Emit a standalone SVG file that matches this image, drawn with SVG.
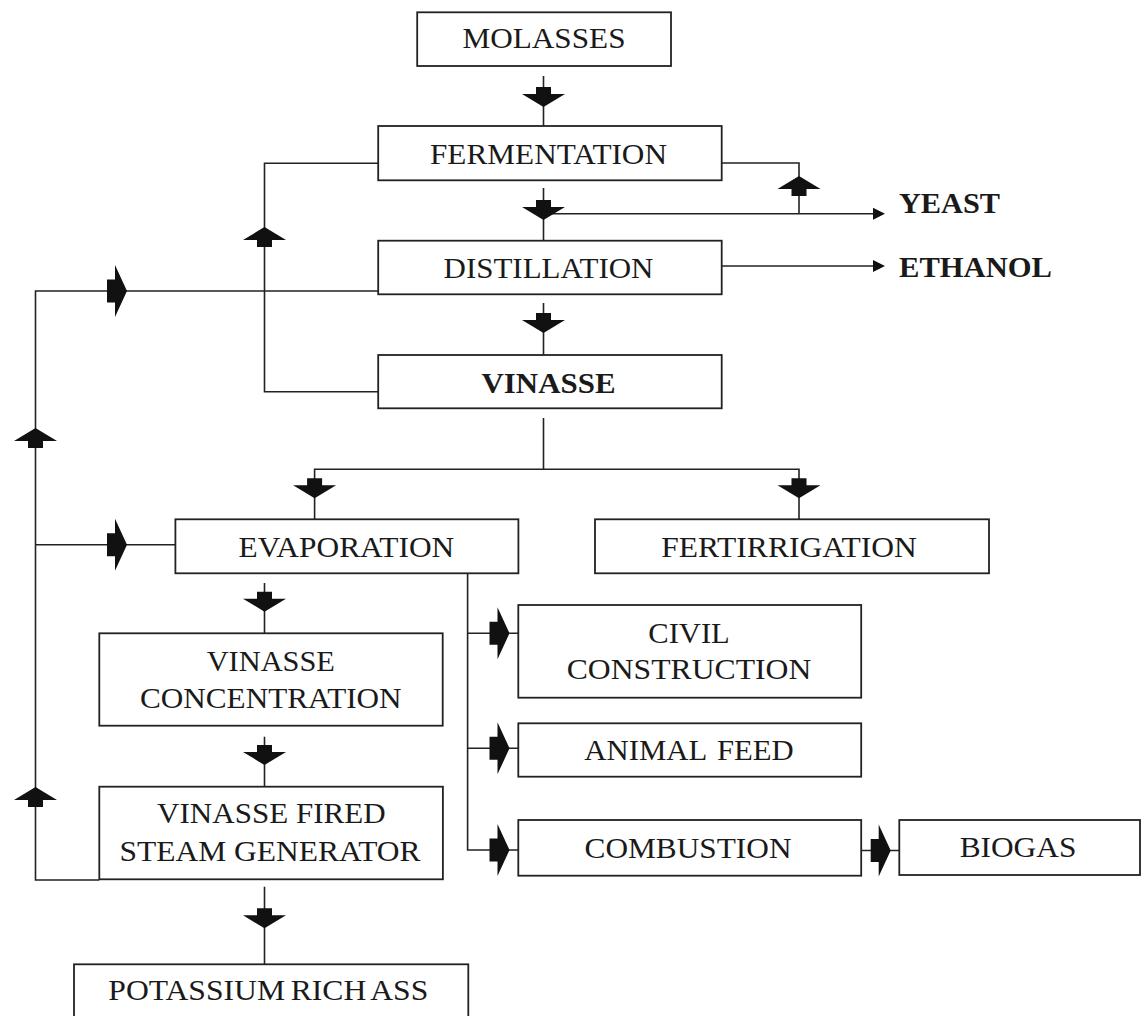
<svg xmlns="http://www.w3.org/2000/svg" xmlns:xlink="http://www.w3.org/1999/xlink" width="1141" height="1016" viewBox="0 0 1141 1016">
<style>
.box{fill:#fff;stroke:#222;stroke-width:1.8}
.ln{fill:none;stroke:#222;stroke-width:1.6}
.t{font-family:"Liberation Serif","Times New Roman",serif;font-size:29px;fill:#1a1a1a;text-anchor:middle}
.b{font-weight:bold}
.ah{fill:#111}
</style>
<defs>
<path id="ad" d="M-7.5,-20 H7.5 V-13 H21.5 L0,0 L-21.5,-13 H-7.5 Z"/>
<path id="ar" d="M-20,-11.5 H-12 V-26 L0,0 L-12,26 V11.5 H-20 Z"/>
<path id="ap" d="M-12,-6 L0,0 L-12,6 Z"/>
</defs>
<rect width="1141" height="1016" fill="#fff"/>

<g id="connectors">
<line class="ln" x1="543.5" y1="76" x2="543.5" y2="126"/>
<line class="ln" x1="543.5" y1="188" x2="543.5" y2="240.7"/>
<line class="ln" x1="543.5" y1="303" x2="543.5" y2="355"/>
<line class="ln" x1="543.5" y1="213.7" x2="875" y2="213.7"/>
<path class="ln" d="M721.7,163 H799 V213.7"/>
<line class="ln" x1="721.7" y1="266" x2="875" y2="266"/>
<path class="ln" d="M378,163.3 H264.5 V391.7 H378"/>
<line class="ln" x1="543.5" y1="418" x2="543.5" y2="469.3"/>
<path class="ln" d="M314.6,519.3 V469.3 H799 V519.3"/>
<line class="ln" x1="264.5" y1="583" x2="264.5" y2="633"/>
<line class="ln" x1="264.5" y1="736.7" x2="264.5" y2="786.7"/>
<line class="ln" x1="264.5" y1="886.7" x2="264.5" y2="964.3"/>
<path class="ln" d="M99.3,880 H35.5 V291 H378"/>
<line class="ln" x1="35.5" y1="544.7" x2="175.4" y2="544.7"/>
<path class="ln" d="M467.6,573.3 V850 H518.3"/>
<line class="ln" x1="467.6" y1="633.3" x2="518.3" y2="633.3"/>
<line class="ln" x1="467.6" y1="748.3" x2="518.3" y2="748.3"/>
<line class="ln" x1="861.2" y1="850.5" x2="899.3" y2="850.5"/>

<use xlink:href="#ad" class="ah" x="543.5" y="107"/>
<use xlink:href="#ad" class="ah" x="543.5" y="220"/>
<use xlink:href="#ad" class="ah" x="543.5" y="333"/>
<use xlink:href="#ad" class="ah" x="314.6" y="498.3"/>
<use xlink:href="#ad" class="ah" x="799" y="498.3"/>
<use xlink:href="#ad" class="ah" x="264.5" y="611.7"/>
<use xlink:href="#ad" class="ah" x="264.5" y="765"/>
<use xlink:href="#ad" class="ah" x="264.5" y="928.3"/>
<use xlink:href="#ad" class="ah" transform="translate(799,176) rotate(180)"/>
<use xlink:href="#ad" class="ah" transform="translate(264.5,227) rotate(180)"/>
<use xlink:href="#ad" class="ah" transform="translate(35.5,428) rotate(180)"/>
<use xlink:href="#ad" class="ah" transform="translate(35.5,787) rotate(180)"/>
<use xlink:href="#ar" class="ah" x="127" y="291"/>
<use xlink:href="#ar" class="ah" x="127" y="544.7"/>
<use xlink:href="#ar" class="ah" x="509.5" y="633.3"/>
<use xlink:href="#ar" class="ah" x="509.5" y="748.3"/>
<use xlink:href="#ar" class="ah" x="509.5" y="850"/>
<use xlink:href="#ar" class="ah" x="890.7" y="850.5"/>
<use xlink:href="#ap" class="ah" x="885" y="213.7"/>
<use xlink:href="#ap" class="ah" x="885" y="266"/>
</g>

<g id="molasses"><rect class="box" x="417.2" y="12.3" width="253.8" height="53.7"/><text class="t" x="544" y="48.3" textLength="163" lengthAdjust="spacingAndGlyphs">MOLASSES</text></g>
<g id="fermentation"><rect class="box" x="378.2" y="126" width="343.5" height="54.3"/><text class="t" x="548.5" y="164.3" textLength="237" lengthAdjust="spacingAndGlyphs">FERMENTATION</text></g>
<g id="distillation"><rect class="box" x="378.2" y="240.7" width="343.5" height="53.6"/><text class="t" x="548.5" y="278.3" textLength="210" lengthAdjust="spacingAndGlyphs">DISTILLATION</text></g>
<g id="vinasse"><rect class="box" x="378.2" y="355" width="343.5" height="53.3"/><text class="t b" x="548.5" y="392.7" textLength="134" lengthAdjust="spacingAndGlyphs">VINASSE</text></g>
<g id="yeast"><text class="t b" x="899" y="213.3" style="text-anchor:start" textLength="101" lengthAdjust="spacingAndGlyphs">YEAST</text></g>
<g id="ethanol"><text class="t b" x="899" y="277" style="text-anchor:start" textLength="153" lengthAdjust="spacingAndGlyphs">ETHANOL</text></g>
<g id="evaporation"><rect class="box" x="175.4" y="519.3" width="343" height="54"/><text class="t" x="346.4" y="556.7" textLength="215.7" lengthAdjust="spacingAndGlyphs">EVAPORATION</text></g>
<g id="fertirrigation"><rect class="box" x="595" y="519.3" width="394" height="54"/><text class="t" x="789" y="557.3" textLength="255.7" lengthAdjust="spacingAndGlyphs">FERTIRRIGATION</text></g>
<g id="vinasse-concentration"><rect class="box" x="99.3" y="633.3" width="343.4" height="92.4"/><text class="t" x="270.8" y="671" textLength="128.3" lengthAdjust="spacingAndGlyphs">VINASSE</text><text class="t" x="270.8" y="707.7" textLength="261.7" lengthAdjust="spacingAndGlyphs">CONCENTRATION</text></g>
<g id="civil-construction"><rect class="box" x="518.3" y="605" width="342.9" height="92.7"/><text class="t" x="689" y="642.7" textLength="81.5" lengthAdjust="spacingAndGlyphs">CIVIL</text><text class="t" x="689" y="679.3" textLength="244.6" lengthAdjust="spacingAndGlyphs">CONSTRUCTION</text></g>
<g id="animal-feed"><rect class="box" x="518.3" y="723.3" width="342.9" height="53.4"/><text class="t" x="689" y="760" textLength="209.4" lengthAdjust="spacingAndGlyphs" word-spacing="3">ANIMAL FEED</text></g>
<g id="combustion"><rect class="box" x="518.3" y="820" width="342.9" height="55.7"/><text class="t" x="688" y="857.7" textLength="207" lengthAdjust="spacingAndGlyphs">COMBUSTION</text></g>
<g id="biogas"><rect class="box" x="899.3" y="820" width="240.7" height="55"/><text class="t" x="1018" y="857.3" textLength="116.7" lengthAdjust="spacingAndGlyphs">BIOGAS</text></g>
<g id="vinasse-fired-steam-generator"><rect class="box" x="99.3" y="786.7" width="343.6" height="92.6"/><text class="t" x="271.4" y="823.3" textLength="228.6" lengthAdjust="spacingAndGlyphs">VINASSE FIRED</text><text class="t" x="270" y="861" textLength="301" lengthAdjust="spacingAndGlyphs">STEAM GENERATOR</text></g>
<g id="potassium-rich-ass"><rect class="box" x="74" y="964.3" width="394.3" height="70"/><text class="t" x="268.3" y="1000" textLength="320" lengthAdjust="spacingAndGlyphs" word-spacing="-2">POTASSIUM RICH ASS</text></g>
</svg>
